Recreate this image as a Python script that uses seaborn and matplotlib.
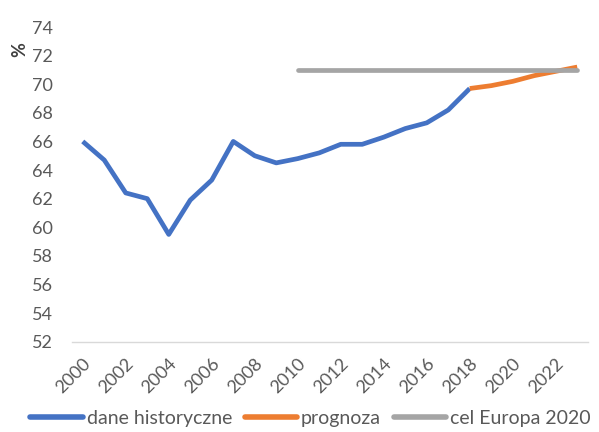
import matplotlib
matplotlib.use("Agg")
import matplotlib.pyplot as plt
import seaborn as sns
import pandas as pd

hist_years = list(range(2000, 2019))
hist_values = [66.0, 64.7, 62.4, 62.0, 59.5, 61.9, 63.3, 66.0, 65.0, 64.5,
               64.8, 65.2, 65.8, 65.8, 66.3, 66.9, 67.3, 68.2, 69.7]
fc_years = list(range(2018, 2024))
fc_values = [69.7, 69.9, 70.2, 70.6, 70.9, 71.2]
target_years = list(range(2010, 2024))
target_values = [71.0] * len(target_years)
series_names = ["dane historyczne", "prognoza", "cel Europa 2020"]
colors = ["#4472C4", "#ED7D31", "#A5A5A5"]
yticks = list(range(52, 75, 2))
xticks = list(range(2000, 2023, 2))

sns.set_theme(style="white")
plt.rcParams['font.family'] = ['Lato', 'DejaVu Sans']

fig = plt.figure(figsize=(5.99, 4.32), dpi=100)
ax = fig.add_axes([72/599, 1-341.7/432, 516/599, (341.7-27)/432])

df_h = pd.DataFrame({"year": hist_years, "v": hist_values})
df_f = pd.DataFrame({"year": fc_years, "v": fc_values})
df_t = pd.DataFrame({"year": target_years, "v": target_values})

lw = 3.4
sns.lineplot(data=df_h, x="year", y="v", ax=ax, color=colors[0], lw=lw,
             label=series_names[0], solid_capstyle="butt")
sns.lineplot(data=df_f, x="year", y="v", ax=ax, color=colors[1], lw=lw,
             label=series_names[1], solid_capstyle="butt")
sns.lineplot(data=df_t, x="year", y="v", ax=ax, color=colors[2], lw=lw,
             label=series_names[2], solid_capstyle="round")

ax.set_xlim(1999.5, 2023.5)
ax.set_ylim(52, 74)
ax.set_yticks(yticks)
ax.set_xticks(xticks)
ax.set_xticklabels([str(x) for x in xticks], rotation=45, ha="right",
                   rotation_mode="anchor")
ax.tick_params(axis="both", colors="#595959", labelsize=13, length=0)
ax.tick_params(axis="y", pad=14)
ax.tick_params(axis="x", pad=10)
for s in ["top", "right", "left"]:
    ax.spines[s].set_visible(False)
ax.spines["bottom"].set_color("#D9D9D9")
ax.spines["bottom"].set_linewidth(1.0)
ax.set_xlabel("")
ax.set_ylabel("%", fontsize=13, color="#404040", fontweight="bold")
ax.yaxis.set_label_coords(-0.085, 0.927)

leg = ax.legend(loc="center", bbox_to_anchor=(0.462, -0.245), ncol=3,
                frameon=False, fontsize=14, handlelength=2.7,
                handletextpad=0.2, columnspacing=0.65, borderpad=0.2)
for t in leg.get_texts():
    t.set_color("#595959")
for h in leg.get_lines():
    h.set_linewidth(4)
    h.set_solid_capstyle("round")

fig.savefig("out.png", dpi=100)
